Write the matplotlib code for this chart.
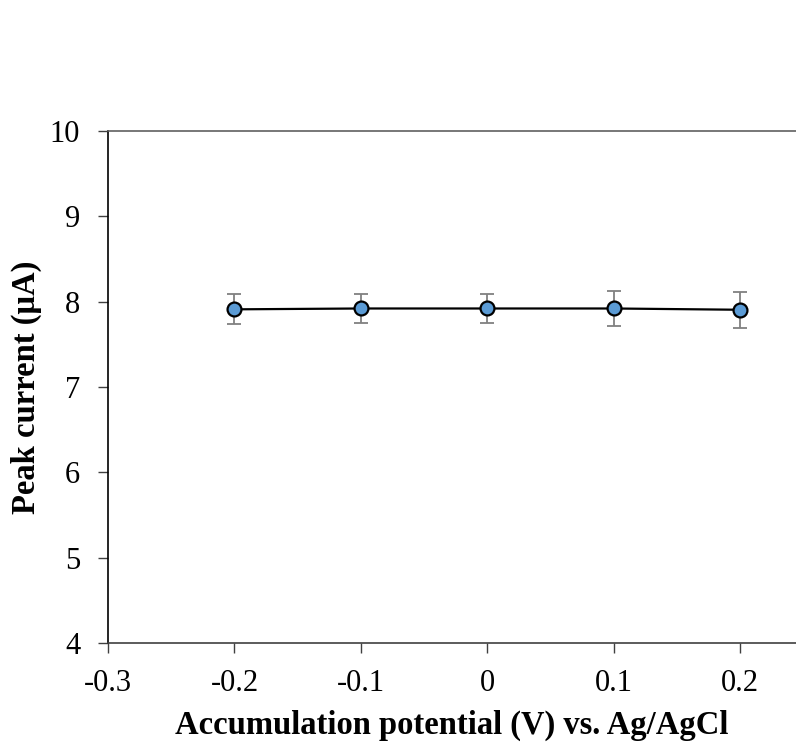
import numpy as np
import matplotlib.pyplot as plt

# accumulation potential (V) vs. peak current (uA)
potential = [-0.2, -0.1, 0.0, 0.1, 0.2]
current = [7.91, 7.92, 7.92, 7.92, 7.905]
current_err = [0.175, 0.165, 0.17, 0.21, 0.21]

xticks = [-0.3, -0.2, -0.1, 0.0, 0.1, 0.2]
xticklabels = ['-0.3', '-0.2', '-0.1', '0', '0.1', '0.2']
yticks = [4, 5, 6, 7, 8, 9, 10]

plt.rcParams['font.family'] = ['Liberation Serif', 'DejaVu Serif']

fig = plt.figure(figsize=(7.96, 7.43), dpi=100)
ax = fig.add_axes([0.1357, 0.1346, 0.8643, 0.6891])

ax.errorbar(potential, current, yerr=current_err, fmt='none',
            ecolor='#808080', elinewidth=1.3, capsize=5, capthick=1.3, zorder=2)
ax.plot(potential, current, color='black', linewidth=1.6, marker='o',
        markersize=10, markerfacecolor='#5B9BD5', markeredgecolor='black',
        markeredgewidth=1.6, zorder=3)

ax.set_xlim(-0.3, 0.244)
ax.set_ylim(4, 10)
ax.set_xticks(xticks)
ax.set_xticklabels(xticklabels)
ax.set_yticks(yticks)
ax.tick_params(axis='both', direction='out', length=7, width=1, labelsize=22,
               color='#404040')
ax.tick_params(axis='x', pad=12)
ax.tick_params(axis='y', pad=13)

ax.spines['right'].set_visible(False)
ax.spines['top'].set_color('#606060')
ax.spines['left'].set_color('black')
ax.spines['bottom'].set_color('#404040')
for s in ax.spines.values():
    s.set_linewidth(1.2)

ax.set_xlabel('Accumulation potential (V) vs. Ag/AgCl', fontsize=23.5,
              fontweight='bold', labelpad=8)
ax.set_ylabel('Peak current (\u03bcA)', fontsize=23.5, fontweight='bold',
              labelpad=6)

fig.savefig('out.png', dpi=100)
